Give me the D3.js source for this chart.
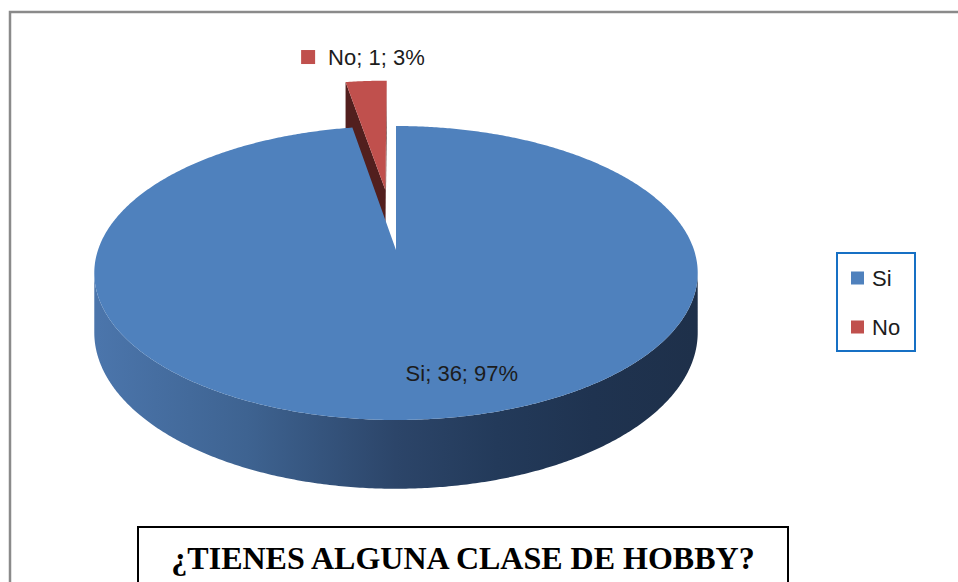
<!DOCTYPE html>
<html lang="es">
<head>
  <meta charset="UTF-8">
  <title>¿Tienes alguna clase de hobby?</title>
  <script src="https://d3js.org/d3.v7.min.js"></script>
  <style>
    body { margin: 0; background: white; }
    svg { display: block; }
    .lbl { font-family: "Liberation Sans", Arial, sans-serif; font-size: 22px; fill: #1c1c1c; }
    .title { font-family: "Liberation Serif", "Times New Roman", serif; font-weight: bold; font-size: 32px; fill: #000; }
  </style>
</head>
<body>
  <div id="chart"></div>
  <script>
    // data
    const categories = ["Si", "No"];
    const counts = [36, 1];
    const topColors = ["#4f81bd", "#c0504d"];
    const cutColors = ["#2b4668", "#521f1e"];
    const explode = [0, 0.45];          // how far each slice is pulled out (pie radius units)
    const titleText = "¿TIENES ALGUNA CLASE DE HOBBY?";

    const width = 958, height = 582;

    // fake 3D projection of the pie (x-tilt with a bit of perspective)
    const cx = 396, cy = 250, RX = 298, RY = 143.4, K = 0.1565, DEPTH = 58;
    function proj(u, v, h) {
      const s = 1 / (1 + K * v);
      return [cx + RX * u * s, cy - RY * v * s + DEPTH * h * s];
    }
    function area(pts) {
      let a = 0;
      for (let i = 0; i < pts.length; i++) {
        const p = pts[i], q = pts[(i + 1) % pts.length];
        a += p[0] * q[1] - q[0] * p[1];
      }
      return a / 2;
    }
    const line = d3.line();
    const closed = pts => line(pts) + "Z";

    const total = d3.sum(counts);
    const pie = d3.pie().sort(null).value(d => d);
    const arcs = pie(counts);

    const svg = d3.select("#chart").append("svg")
      .attr("width", width)
      .attr("height", height);

    // side gradients (light on the left, dark on the right)
    const defs = svg.append("defs");
    function wallGradient(id, stops) {
      const gr = defs.append("linearGradient")
        .attr("id", id)
        .attr("gradientUnits", "userSpaceOnUse")
        .attr("x1", cx - RX).attr("x2", cx + RX).attr("y1", 0).attr("y2", 0);
      stops.forEach(([o, c]) => gr.append("stop").attr("offset", o).attr("stop-color", c));
    }
    wallGradient("wall0", [[0, "#4b75ab"], [0.25, "#3e6391"], [0.5, "#2c4569"], [0.67, "#233a5a"], [0.83, "#1f3350"], [1, "#1e304a"]]);
    wallGradient("wall1", [[0, "#9c3f3c"], [1, "#4e1e1d"]]);

    // chart area border (runs off the right and bottom)
    svg.append("rect")
      .attr("x", 10).attr("y", 12)
      .attr("width", 1000).attr("height", 640)
      .attr("fill", "none")
      .attr("stroke", "#8a8a8a")
      .attr("stroke-width", 2.5);

    // draw back slice first so the big one covers it
    const order = arcs.map((a, i) => i).sort((a, b) => explode[b] - explode[a]);
    const pieG = svg.append("g");

    order.forEach(i => {
      const a = arcs[i];
      const mid = (a.startAngle + a.endAngle) / 2;
      const ou = explode[i] * Math.sin(mid), ov = explode[i] * Math.cos(mid);
      const P = (t, h) => proj(ou + Math.sin(t), ov + Math.cos(t), h);
      const C = h => proj(ou, ov, h);
      const n = Math.max(2, Math.ceil((a.endAngle - a.startAngle) / (Math.PI / 360)));
      const ts = d3.range(n + 1).map(k => a.startAngle + (a.endAngle - a.startAngle) * k / n);
      const g = pieG.append("g");

      // outer wall: join the segments facing the viewer into runs
      const vis = d3.range(n).map(k => area([P(ts[k], 0), P(ts[k + 1], 0), P(ts[k + 1], 1), P(ts[k], 1)]) < 0);
      const runs = [];
      let cur = null;
      vis.forEach((f, k) => {
        if (f) { if (!cur) { cur = [k, k]; runs.push(cur); } cur[1] = k + 1; }
        else cur = null;
      });
      const walls = runs.map(([s, e]) => {
        const seg = ts.slice(s, e + 1);
        return seg.map(t => P(t, 0)).concat(seg.slice().reverse().map(t => P(t, 1)));
      });
      g.selectAll("path.wall").data(walls).join("path")
        .attr("class", "wall")
        .attr("d", closed)
        .attr("fill", `url(#wall${i})`);

      // cut faces
      const cuts = [
        [C(0), P(a.startAngle, 0), P(a.startAngle, 1), C(1)],
        [C(0), C(1), P(a.endAngle, 1), P(a.endAngle, 0)]
      ].filter(q => a.endAngle - a.startAngle < 2 * Math.PI && area(q) < -1);
      g.selectAll("path.cut").data(cuts).join("path")
        .attr("class", "cut")
        .attr("d", closed)
        .attr("fill", cutColors[i]);

      // top face
      g.append("path")
        .attr("d", closed([C(0)].concat(ts.map(t => P(t, 0)))))
        .attr("fill", topColors[i]);
    });

    // data labels "name; value; percent"
    const fmt = (i) => `${categories[i]}; ${counts[i]}; ${Math.round(counts[i] / total * 100)}%`;

    // Si: inside the top face
    {
      const a = arcs[0];
      const t = (a.startAngle + a.endAngle) / 2 - 9.5 * Math.PI / 180;
      const [x, y] = proj(0.785 * Math.sin(t), 0.785 * Math.cos(t), 0);
      svg.append("text").attr("class", "lbl")
        .attr("x", x).attr("y", y)
        .attr("text-anchor", "middle")
        .attr("dominant-baseline", "central")
        .text(fmt(0));
    }
    // No: above the pulled-out slice, with its legend key
    {
      const a = arcs[1];
      const t = (a.startAngle + a.endAngle) / 2;
      const r = 1 + explode[1];
      const [x, y] = proj(r * Math.sin(t), r * Math.cos(t), 0);
      const lg = svg.append("g").attr("transform", `translate(${x},${y - 24})`);
      lg.append("text").attr("class", "lbl")
        .attr("x", -38).attr("y", 0)
        .attr("dominant-baseline", "central")
        .text(fmt(1));
      lg.append("rect")
        .attr("x", -65).attr("y", -7)
        .attr("width", 14).attr("height", 14)
        .attr("fill", topColors[1]);
    }

    // legend
    const leg = svg.append("g").attr("transform", "translate(837,253)");
    leg.append("rect")
      .attr("width", 78).attr("height", 98)
      .attr("fill", "white")
      .attr("stroke", "#1670c4")
      .attr("stroke-width", 2);
    const item = leg.selectAll("g.item").data(categories).join("g")
      .attr("class", "item")
      .attr("transform", (d, i) => `translate(14,${25 + i * 49})`);
    item.append("rect")
      .attr("y", -6.5).attr("width", 13).attr("height", 13)
      .attr("fill", (d, i) => topColors[i]);
    item.append("text").attr("class", "lbl")
      .attr("x", 21).attr("y", 0)
      .attr("dominant-baseline", "central")
      .text(d => d);

    // title box
    svg.append("rect")
      .attr("x", 138).attr("y", 527)
      .attr("width", 650).attr("height", 80)
      .attr("fill", "white")
      .attr("stroke", "#000")
      .attr("stroke-width", 2);
    svg.append("text").attr("class", "title")
      .attr("x", 463).attr("y", 569)
      .attr("text-anchor", "middle")
      .text(titleText);
  </script>
</body>
</html>
